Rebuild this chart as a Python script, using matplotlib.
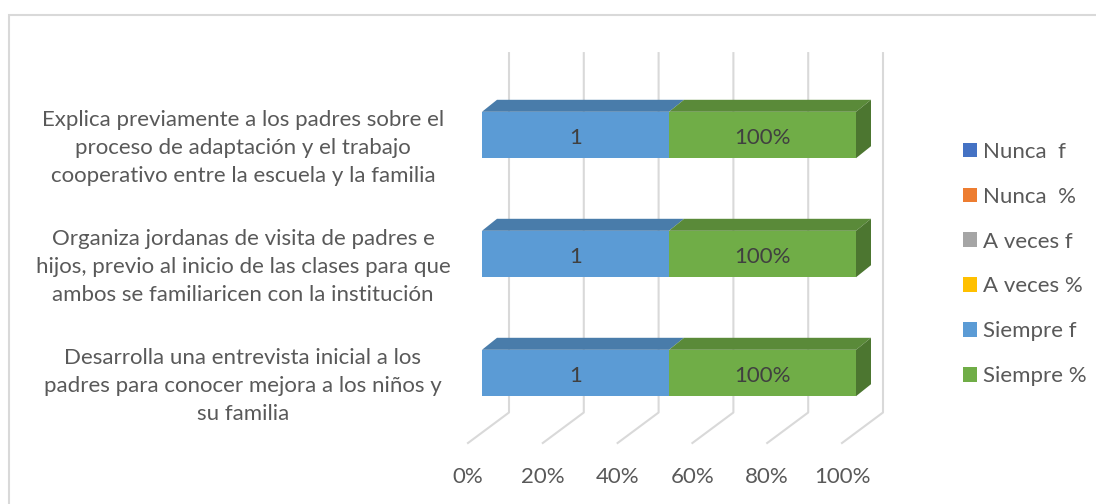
import numpy as np
import matplotlib.pyplot as plt
import matplotlib.transforms as mtransforms
from matplotlib.patches import Polygon, Patch, Rectangle
from matplotlib.colors import to_rgb

plt.rcParams['font.family'] = ['Lato', 'DejaVu Sans']

# Datos del grafico (de abajo hacia arriba)
categorias = [
    "Desarrolla una entrevista inicial a los\npadres para conocer mejora a los niños y\nsu familia",
    "Organiza jordanas de visita de padres e\nhijos, previo al inicio de las clases para que\nambos se familiaricen con la institución",
    "Explica previamente a los padres sobre el\nproceso de adaptación y el trabajo\ncooperativo entre la escuela y la familia",
]
series = ["Nunca  f", "Nunca  %", "A veces f", "A veces %", "Siempre f", "Siempre %"]
nunca_f = [0, 0, 0]
nunca_pct = [0, 0, 0]
a_veces_f = [0, 0, 0]
a_veces_pct = [0, 0, 0]
siempre_f = [1, 1, 1]
siempre_pct = [1.0, 1.0, 1.0]
ticks = [0, 20, 40, 60, 80, 100]

valores = [nunca_f, nunca_pct, a_veces_f, a_veces_pct, siempre_f, siempre_pct]
es_pct = [False, True, False, True, False, True]
colores = ['#4472C4', '#ED7D31', '#A5A5A5', '#FFC000', '#5B9BD5', '#70AD47']

gris_texto = '#595959'
gris_linea = '#d9d9d9'
fs = 16

fig = plt.figure(figsize=(10.96, 5.04), dpi=100)
ax = fig.add_axes([482 / 1096, 71.5 / 504, 374 / 1096, 357 / 504])
ax.set_xlim(0, 100)
ax.set_ylim(-0.5, 2.5)
ax.axis('off')

# profundidad 3D en pixeles
fondo = (27, 20)
frente = (-14, -10.5)
prof_barra = (15, 12)


def desplazar(x, y, d):
    p = ax.transData.transform((x, y))
    return (p[0] + d[0], p[1] + d[1])


ident = mtransforms.IdentityTransform()

# lineas de la pared del fondo y del piso
for t in ticks:
    a = desplazar(t, 2.52, fondo)
    b = desplazar(t, -0.5, fondo)
    c = desplazar(t, -0.5, frente)
    ax.add_line(plt.Line2D([a[0], b[0], c[0]], [a[1], b[1], c[1]], color=gris_linea,
                           lw=1.5, transform=ident, clip_on=False, zorder=1))
    p = desplazar(t, -0.5, (frente[0], frente[1] - 34))
    ax.text(p[0], p[1], f"{t}%", transform=ident, ha='center', va='center',
            fontsize=fs, color=gris_texto)

# barras apiladas al 100%
y = np.arange(len(categorias))
totales = np.sum(np.array(valores, dtype=float), axis=0)
h = 0.39
izq = np.zeros(len(categorias))
bajar = mtransforms.Affine2D().translate(0, -3)
for vals, pct, col in zip(valores, es_pct, colores):
    w = np.array(vals, dtype=float) / totales * 100
    ax.barh(y, w, left=izq, height=h, color=col, zorder=3)
    oscuro_top = tuple(c * 0.8 for c in to_rgb(col))
    for i in range(len(y)):
        if w[i] <= 0:
            continue
        p1 = desplazar(izq[i], y[i] + h / 2, (0, 0))
        p2 = desplazar(izq[i] + w[i], y[i] + h / 2, (0, 0))
        p3 = desplazar(izq[i] + w[i], y[i] + h / 2, prof_barra)
        p4 = desplazar(izq[i], y[i] + h / 2, prof_barra)
        ax.add_patch(Polygon([p1, p2, p3, p4], closed=True, facecolor=oscuro_top,
                             edgecolor='none', transform=ident, clip_on=False, zorder=2))
        etiqueta = f"{vals[i]:.0%}" if pct else f"{vals[i]:d}"
        ax.text(izq[i] + w[i] / 2, y[i], etiqueta, ha='center', va='center',
                fontsize=fs, color='#404040', zorder=5, transform=ax.transData + bajar)
    izq = izq + w

# cara lateral derecha (ultima serie visible)
for i in range(len(y)):
    ultimo = [k for k in range(len(valores)) if valores[k][i] > 0][-1]
    oscuro_lado = tuple(c * 0.68 for c in to_rgb(colores[ultimo]))
    q1 = desplazar(izq[i], y[i] - h / 2, (0, 0))
    q2 = desplazar(izq[i], y[i] + h / 2, (0, 0))
    q3 = desplazar(izq[i], y[i] + h / 2, prof_barra)
    q4 = desplazar(izq[i], y[i] - h / 2, prof_barra)
    ax.add_patch(Polygon([q1, q2, q3, q4], closed=True, facecolor=oscuro_lado,
                         edgecolor='none', transform=ident, clip_on=False, zorder=2))

# etiquetas de categorias
trans_cat = mtransforms.blended_transform_factory(fig.transFigure, ax.transData) + \
    mtransforms.Affine2D().translate(0, -13)
for yi, cat in zip(y, categorias):
    ax.text(243 / 1096, yi, cat, transform=trans_cat, ha='center', va='center',
            fontsize=fs, color=gris_texto, linespacing=1.5, clip_on=False)

# leyenda
handles = [Patch(facecolor=c, edgecolor='none') for c in colores]
fig.legend(handles, series, loc='center left', bbox_to_anchor=(963 / 1096, (504 - 264) / 504),
           frameon=False, fontsize=fs, handlelength=0.63, handleheight=0.63,
           handletextpad=0.25, labelspacing=1.12, borderpad=0, borderaxespad=0,
           labelcolor=gris_texto)

# borde del area del grafico
fig.add_artist(Rectangle((8.5 / 1096, -0.05), 1.1, 1 - 14.5 / 504 + 0.05, transform=fig.transFigure,
                         facecolor='none', edgecolor=gris_linea, lw=1.5))

fig.savefig('out.png', dpi=100)
